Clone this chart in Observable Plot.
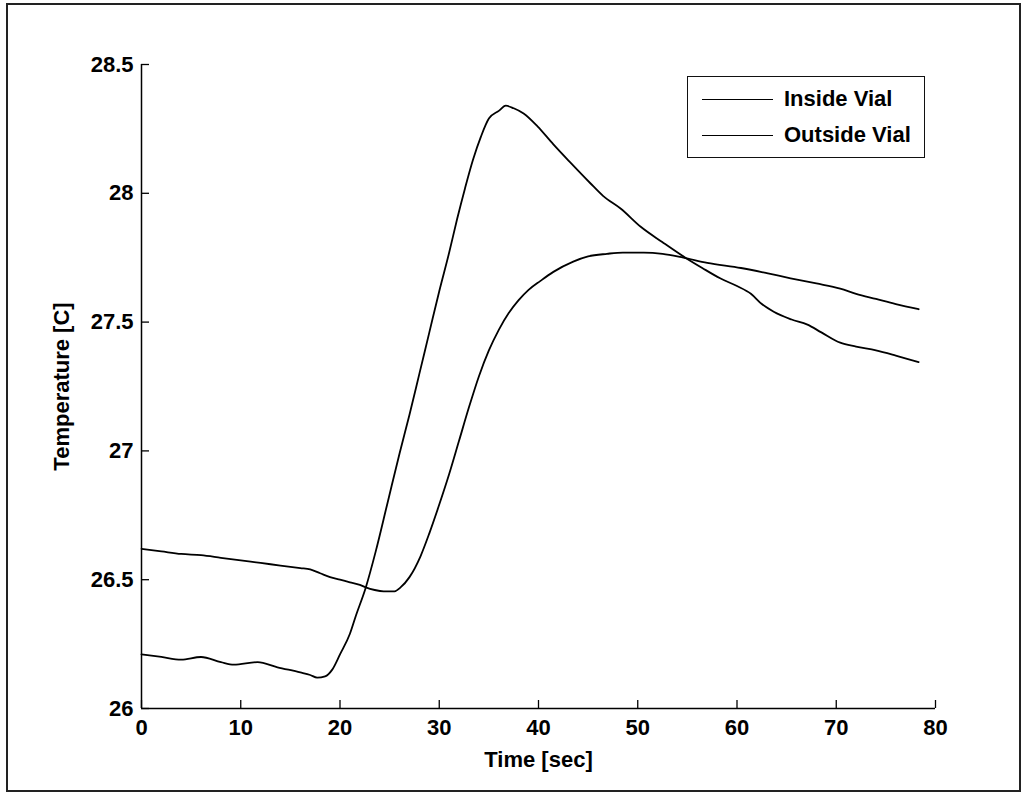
<!DOCTYPE html>
<html><head><meta charset="utf-8">
<script src="https://cdn.jsdelivr.net/npm/d3@7"></script>
<script src="https://cdn.jsdelivr.net/npm/@observablehq/plot@0.6"></script>
<style>
body{margin:0;background:#fff;}
#wrap{position:relative;width:1022px;height:793px;overflow:hidden;font-family:"Liberation Sans",Arial,sans-serif;background:#fff;}
#chart{position:absolute;left:0;top:0;}
#border{position:absolute;left:6px;top:3px;width:1015px;height:789px;border:2px solid #222;box-sizing:border-box;pointer-events:none;}
#legend{position:absolute;left:687px;top:76px;width:238px;height:82px;border:1.5px solid #111;box-sizing:border-box;background:#fff;}
.item{position:absolute;left:14px;height:26px;display:flex;align-items:center;font-size:22px;font-weight:bold;color:#000;}
.swatch{width:71px;height:0;border-top:1.5px solid #000;margin-right:11px;}
</style></head><body>
<div id="wrap"><div id="chart"></div><div id="legend"></div><div id="border"></div></div>
<script>
const seriesNames = ["Inside Vial", "Outside Vial"];
const xTicks = [0, 10, 20, 30, 40, 50, 60, 70, 80];
const yTicks = [26, 26.5, 27, 27.5, 28, 28.5];
const xDomain = [0, 80];
const yDomain = [26, 28.5];

const insideTime = [0,2,4,6,8,10,12,14,16,17,18,19,20,21,22,22.6,23.5,24.4,25.5,26.1,27,28.1,29,29.9,31,32,33,34,35,36,37,38,39,40.2,41.5,43.5,45,46.9,48.5,50.6,52.5,54.6,57,60.4,63,65.4,68,70.4,72,74,76,78.3];
const insideTemp = [26.62,26.61,26.60,26.595,26.585,26.575,26.565,26.555,26.545,26.54,26.525,26.51,26.50,26.49,26.48,26.47,26.46,26.455,26.455,26.47,26.51,26.59,26.68,26.78,26.91,27.04,27.17,27.29,27.39,27.47,27.535,27.585,27.625,27.66,27.695,27.735,27.755,27.765,27.77,27.77,27.765,27.75,27.73,27.71,27.69,27.67,27.65,27.63,27.61,27.59,27.57,27.55];

const outsideTime = [0,2,4,6,8,9.3,11.7,13.7,16,17,17.7,18.5,19.2,20,21,21.6,22.6,23.6,24.8,26,27,28,29,30,31,31.8,32.6,33.4,34.2,35,36,36.7,37.5,38.5,39.9,41.5,43.2,45.2,46.5,48.3,50.3,52.5,54.8,56.5,58.3,60,61.4,62.5,63.7,65.5,67.1,68.5,70.4,72,74,76,78.3];
const outsideTemp = [26.21,26.20,26.19,26.20,26.18,26.17,26.18,26.16,26.14,26.13,26.12,26.125,26.15,26.21,26.29,26.36,26.47,26.61,26.80,26.99,27.14,27.30,27.46,27.62,27.77,27.90,28.02,28.13,28.22,28.29,28.32,28.34,28.33,28.31,28.26,28.19,28.12,28.04,27.99,27.94,27.87,27.81,27.75,27.71,27.67,27.64,27.61,27.57,27.54,27.51,27.49,27.46,27.42,27.405,27.39,27.37,27.345];

const rows = [
  ...insideTime.map((t, i) => ({series: seriesNames[0], time: t, temp: insideTemp[i]})),
  ...outsideTime.map((t, i) => ({series: seriesNames[1], time: t, temp: outsideTemp[i]}))
];

const chart = Plot.plot({
  width: 1022, height: 793,
  marginLeft: 141, marginRight: 87, marginTop: 64, marginBottom: 85,
  x: {domain: xDomain},
  y: {domain: yDomain},
  style: {fontFamily: '"Liberation Sans", Arial, sans-serif', fontSize: "22px", fontWeight: "bold", background: "transparent", color: "#000", overflow: "visible"},
  marks: [
    Plot.ruleX([xDomain[0]], {stroke: "#000", strokeWidth: 1.5}),
    Plot.ruleY([yDomain[0]], {stroke: "#000", strokeWidth: 1.5}),
    Plot.axisX(xTicks, {tickSize: -8, tickPadding: 19, fontSize: 22, strokeWidth: 1.3, label: "Time [sec]", labelAnchor: "center", labelOffset: 58, labelArrow: "none"}),
    Plot.axisY(yTicks, {tickSize: -8, tickPadding: 16, fontSize: 22, strokeWidth: 1.3, label: "Temperature [C]", labelAnchor: "center", labelOffset: 88, labelArrow: "none", tickFormat: d => String(d)}),
    Plot.line(rows, {x: "time", y: "temp", z: "series", stroke: "#000", strokeWidth: 1.8, curve: "monotone-x"})
  ]
});
document.getElementById("chart").appendChild(chart);

const legend = document.getElementById("legend");
seriesNames.forEach((name, i) => {
  const item = document.createElement("div");
  item.className = "item";
  item.style.top = (9 + i * 36) + "px";
  const sw = document.createElement("div");
  sw.className = "swatch";
  const label = document.createElement("span");
  label.textContent = name;
  item.appendChild(sw);
  item.appendChild(label);
  legend.appendChild(item);
});
</script>
</body></html>
